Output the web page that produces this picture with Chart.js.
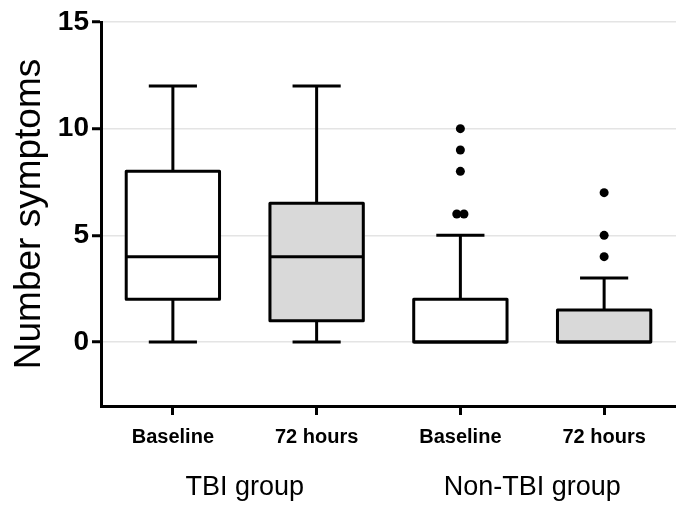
<!DOCTYPE html>
<html>
<head>
<meta charset="utf-8">
<script src="https://cdn.jsdelivr.net/npm/chart.js@4.4.0/dist/chart.umd.min.js"></script>
<style>
  html, body { margin: 0; padding: 0; background: #fff; }
</style>
</head>
<body>
<canvas id="chart" width="676" height="506"></canvas>
<script>
// box plot values
const categories = ['Baseline', '72 hours', 'Baseline', '72 hours'];
const groups = ['TBI group', 'Non-TBI group'];
const whiskerLow = [0, 0, 0, 0];
const q1 = [2, 1, 0, 0];
const median = [4, 4, 0, 0];
const q3 = [8, 6.5, 2, 1.5];
const whiskerHigh = [12, 12, 5, 3];
const outlierCat = [2, 2, 2, 2, 2, 3, 3, 3];
const outlierVal = [6, 6, 8, 9, 10, 4, 5, 7];
const yTicks = [0, 5, 10, 15];

const FONT = "'Liberation Sans', Arial, sans-serif";
const LW = 3;

// spread repeated outliers side by side
const outlierPoints = outlierCat.map((c, i) => {
  const same = (cc, j) => cc === c && outlierVal[j] === outlierVal[i];
  const n = outlierCat.filter(same).length;
  const k = outlierCat.slice(0, i).filter(same).length;
  return { x: c + (k - (n - 1) / 2) * 0.05, y: outlierVal[i] };
});

// box outline, median and whiskers, centred on the values
const whiskerPlugin = {
  id: 'whiskers',
  afterDatasetsDraw(chart) {
    const { ctx } = chart;
    const x = chart.scales.x, y = chart.scales.y;
    const bars = chart.getDatasetMeta(0).data;
    ctx.save();
    ctx.strokeStyle = '#000';
    ctx.lineWidth = LW;
    ctx.lineJoin = 'round';
    const line = (x1, y1, x2, y2) => {
      ctx.beginPath(); ctx.moveTo(x1, y1); ctx.lineTo(x2, y2); ctx.stroke();
    };
    categories.forEach((c, i) => {
      const cx = x.getPixelForValue(i);
      const half = bars[i].width / 2 - LW / 2;
      const cap = bars[i].width / 4;
      const yTop = y.getPixelForValue(q3[i]);
      const yBot = y.getPixelForValue(q1[i]);
      if (whiskerHigh[i] > q3[i]) {
        const yHi = y.getPixelForValue(whiskerHigh[i]);
        line(cx, yTop, cx, yHi);
        line(cx - cap, yHi, cx + cap, yHi);
      }
      if (whiskerLow[i] < q1[i]) {
        const yLo = y.getPixelForValue(whiskerLow[i]);
        line(cx, yBot, cx, yLo);
        line(cx - cap, yLo, cx + cap, yLo);
      }
      ctx.strokeRect(cx - half, yTop, half * 2, yBot - yTop);
      const yMed = y.getPixelForValue(median[i]);
      line(cx - half, yMed, cx + half, yMed);
    });
    ctx.restore();
  }
};

new Chart(document.getElementById('chart'), {
  data: {
    labels: categories,
    datasets: [
      {
        type: 'bar',
        data: categories.map((c, i) => [q1[i], q3[i]]),
        backgroundColor: ctx => ctx.dataIndex % 2 ? '#d9d9d9' : '#ffffff',
        borderWidth: 0,
        grouped: false,
        barPercentage: 0.67,
        categoryPercentage: 1,
        xAxisID: 'x',
        yAxisID: 'y'
      },
      {
        type: 'scatter',
        data: outlierPoints,
        xAxisID: 'xo',
        yAxisID: 'y',
        pointRadius: 4.5,
        backgroundColor: '#000',
        borderWidth: 0
      }
    ]
  },
  options: {
    responsive: false,
    animation: false,
    layout: { autoPadding: false, padding: { top: 22, right: 0, left: 0, bottom: 0 } },
    plugins: { legend: { display: false }, tooltip: { enabled: false } },
    scales: {
      x: {
        type: 'category',
        position: 'bottom',
        weight: 0,
        offset: true,
        grid: { display: true, drawOnChartArea: false, offset: false, tickLength: 9, tickWidth: 3, tickColor: '#000' },
        border: { color: '#000', width: 3 },
        ticks: { color: '#000', font: { family: FONT, size: 20, weight: 'bold' }, padding: 10, maxRotation: 0 },
        afterFit(s) { s.height = 54; s.paddingLeft = 0; s.paddingRight = 0; }
      },
      x2: {
        type: 'category',
        labels: groups,
        position: 'bottom',
        weight: 1,
        offset: true,
        grid: { display: false, drawTicks: false },
        border: { display: false },
        ticks: { color: '#000', font: { family: FONT, size: 27 }, padding: 11, maxRotation: 0 },
        afterFit(s) { s.height = 46; s.paddingLeft = 0; s.paddingRight = 0; }
      },
      xo: {
        type: 'linear', display: false, min: -0.5, max: 3.5,
        ticks: { display: false }
      },
      y: {
        type: 'linear',
        min: -3,
        max: 15,
        afterBuildTicks(s) { s.ticks = yTicks.map(v => ({ value: v })); },
        grid: { color: '#e4e4e4', lineWidth: 1.5, tickColor: '#000', tickWidth: 3, tickLength: 9 },
        border: { color: '#000', width: 3 },
        ticks: { color: '#000', font: { family: FONT, size: 28, weight: 'bold' }, padding: 3 },
        title: { display: true, text: 'Number symptoms', color: '#000', font: { family: FONT, size: 37 }, padding: { top: 8, bottom: 0 } },
        afterFit(s) { s.width = 101; s.paddingTop = 0; s.paddingBottom = 0; }
      }
    }
  },
  plugins: [whiskerPlugin]
});
</script>
</body>
</html>
